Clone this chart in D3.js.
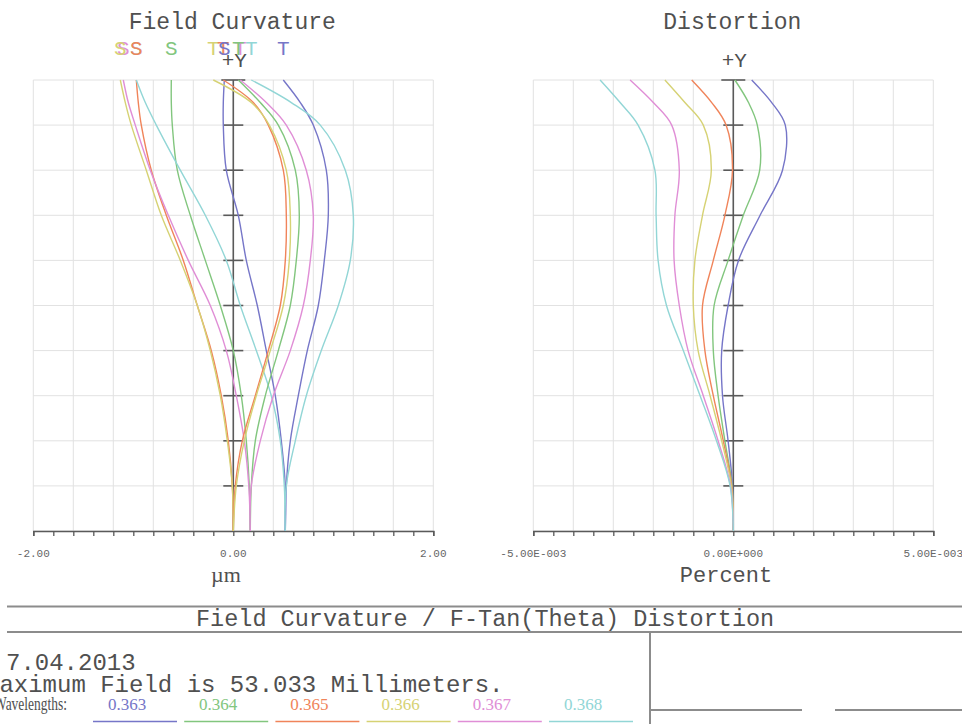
<!DOCTYPE html>
<html>
<head>
<meta charset="utf-8">
<script src="https://cdn.jsdelivr.net/npm/d3@7"></script>
<style>
  html, body { margin: 0; padding: 0; background: #fff; }
  svg { display: block; }
</style>
</head>
<body>
<svg id="chart" width="962" height="724"></svg>
<script>
// Relative field heights (0 = axis, 1 = full field)
const fields = [0, 0.1, 0.2, 0.3, 0.4, 0.5, 0.6, 0.7, 0.8, 0.9, 0.95, 1];
const gridFields = [0, 0.1, 0.2, 0.3, 0.4, 0.5, 0.6, 0.7, 0.8, 0.9, 1];

const wavelengths = ["0.363", "0.364", "0.365", "0.366", "0.367", "0.368"];

// Field curvature, sagittal focus shift (µm)
const sag363 = [0.52, 0.52, 0.48, 0.42, 0.33, 0.24, 0.13, 0.05, -0.07, -0.10, -0.10, -0.09];
const sag364 = [0.17, 0.16, 0.13, 0.08, 0.00, -0.13, -0.28, -0.43, -0.56, -0.61, -0.62, -0.62];
const sag365 = [0.00, -0.01, -0.05, -0.12, -0.22, -0.36, -0.50, -0.67, -0.82, -0.92, -0.95, -0.97];
const sag366 = [0.00, -0.01, -0.06, -0.13, -0.23, -0.36, -0.53, -0.72, -0.87, -1.02, -1.08, -1.13];
const sag367 = [0.17, 0.155, 0.11, 0.03, -0.07, -0.23, -0.45, -0.65, -0.83, -0.98, -1.05, -1.10];
const sag368 = [0.52, 0.51, 0.47, 0.38, 0.23, 0.07, -0.07, -0.28, -0.53, -0.77, -0.88, -0.97];

// Field curvature, tangential focus shift (µm)
const tan363 = [0.52, 0.53, 0.57, 0.65, 0.74, 0.85, 0.91, 0.95, 0.93, 0.80, 0.67, 0.50];
const tan364 = [0.17, 0.18, 0.22, 0.32, 0.45, 0.57, 0.63, 0.66, 0.62, 0.45, 0.27, 0.05];
const tan365 = [0.00, 0.02, 0.09, 0.22, 0.35, 0.47, 0.52, 0.53, 0.50, 0.35, 0.20, -0.10];
const tan366 = [0.00, 0.03, 0.11, 0.23, 0.37, 0.50, 0.56, 0.57, 0.53, 0.36, 0.18, -0.20];
const tan367 = [0.17, 0.18, 0.27, 0.40, 0.57, 0.70, 0.77, 0.80, 0.73, 0.53, 0.33, 0.07];
const tan368 = [0.52, 0.53, 0.62, 0.73, 0.88, 1.05, 1.17, 1.20, 1.12, 0.87, 0.58, 0.18];

// F-Tan(Theta) distortion (percent)
const dist363 = [0, -0.00002, -0.00013, -0.00027, -0.00029, -0.00013, 0.00013, 0.00067, 0.00123, 0.00130, 0.00096, 0.00046];
const dist364 = [0, -0.00003, -0.00021, -0.00038, -0.00050, -0.00048, -0.00013, 0.00025, 0.00066, 0.00060, 0.00038, 0.00004];
const dist365 = [0, -0.00004, -0.00025, -0.00050, -0.00071, -0.00077, -0.00050, -0.00021, -0.00002, -0.00018, -0.00054, -0.00104];
const dist366 = [0, -0.00005, -0.00029, -0.00058, -0.00088, -0.00100, -0.00096, -0.00077, -0.00055, -0.00075, -0.00121, -0.00171];
const dist367 = [0, -0.00007, -0.00038, -0.00075, -0.00113, -0.00135, -0.00148, -0.00146, -0.00135, -0.00154, -0.00200, -0.00258];
const dist368 = [0, -0.00008, -0.00042, -0.00083, -0.00125, -0.00167, -0.00188, -0.00193, -0.00196, -0.00238, -0.00283, -0.00333];

const fcTickValues = [-2, 0, 2];
const fcTickLabels = ["-2.00", "0.00", "2.00"];
const distTickValues = [-0.005, 0, 0.005];
const distTickLabels = ["-5.00E-003", "0.00E+000", "5.00E-003"];

const dateText = "7.04.2013";
const fieldText = "Maximum Field is 53.033 Millimeters.";

// ---- styling ----
const colors = ["#7676c8", "#82c67e", "#f0845a", "#d6d274", "#e08ed6", "#92d6d6"];
const mono = "'Liberation Mono', 'DejaVu Sans Mono', monospace";
const serif = "'Liberation Serif', 'DejaVu Serif', serif";
const ink = "#505050";
const gridColor = "#e2e2e2";
const axisColor = "#5a5a5a";

const svg = d3.select("#chart");

const plotTop = 80, plotBottom = 531;
const fy = d3.scaleLinear().domain([0, 1]).range([plotBottom, plotTop]);
const fcX = d3.scaleLinear().domain([-2, 2]).range([33.3, 433.3]);
const dX = d3.scaleLinear().domain([-0.005, 0.005]).range([533.3, 933.3]);

function panel(xScale, gridStep, tickStep, tickValues, tickLabels, title, unit, unitX, unitFont) {
  const [x0, x1] = xScale.domain();
  const g = svg.append("g");
  const vGrid = d3.range(x0, x1 + gridStep / 2, gridStep);
  g.selectAll(".vg").data(vGrid).join("line")
    .attr("x1", d => xScale(d)).attr("x2", d => xScale(d))
    .attr("y1", plotTop).attr("y2", plotBottom)
    .attr("stroke", gridColor).attr("stroke-width", 1);
  g.selectAll(".hg").data(gridFields).join("line")
    .attr("x1", xScale(x0)).attr("x2", xScale(x1))
    .attr("y1", d => fy(d)).attr("y2", d => fy(d))
    .attr("stroke", gridColor).attr("stroke-width", 1);

  // bottom axis with minor ticks
  const ax = g.append("g").attr("transform", `translate(0,${plotBottom})`)
    .call(d3.axisBottom(xScale)
      .tickValues(d3.range(x0, x1 + tickStep / 2, tickStep))
      .tickSize(5).tickSizeOuter(5).tickFormat(""));
  ax.select(".domain").attr("stroke", axisColor).attr("stroke-width", 1.5);
  ax.selectAll(".tick line").attr("stroke", axisColor).attr("stroke-width", 1.3);

  g.selectAll(".tl").data(tickValues).join("text")
    .attr("x", d => xScale(d)).attr("y", 557)
    .attr("text-anchor", "middle")
    .attr("font-family", mono).attr("font-size", 11)
    .attr("fill", "#666")
    .text((d, i) => tickLabels[i]);

  // centre (zero) axis with field ticks
  const cx = xScale(0);
  g.append("line").attr("x1", cx).attr("x2", cx).attr("y1", plotTop).attr("y2", plotBottom)
    .attr("stroke", axisColor).attr("stroke-width", 1.6);
  g.selectAll(".ct").data(gridFields.filter(d => d > 0)).join("line")
    .attr("x1", d => cx - (d === 1 ? 12 : 10)).attr("x2", d => cx + (d === 1 ? 12 : 10))
    .attr("y1", d => fy(d)).attr("y2", d => fy(d))
    .attr("stroke", axisColor).attr("stroke-width", 1.6);

  g.append("text").attr("x", cx - 1).attr("y", 29).attr("text-anchor", "middle")
    .attr("font-family", mono).attr("font-size", 23).attr("fill", ink).text(title);
  g.append("text").attr("x", cx + 1).attr("y", 67).attr("text-anchor", "middle")
    .attr("font-family", mono).attr("font-size", 21).attr("fill", ink).text("+Y");
  g.append("text").attr("x", unitX).attr("y", 582).attr("text-anchor", "middle")
    .attr("font-family", unitFont).attr("font-size", 22).attr("fill", ink).text(unit);
  return g;
}

panel(fcX, 0.4, 0.2, fcTickValues, fcTickLabels, "Field Curvature", "µm", 226, serif);
panel(dX, 0.001, 0.0005, distTickValues, distTickLabels, "Distortion", "Percent", 726, mono);

function drawCurve(xScale, values, color) {
  const pts = fields.map((f, i) => ({ f, v: values[i] }));
  const line = d3.line()
    .x(d => xScale(d.v)).y(d => fy(d.f))
    .curve(d3.curveCatmullRom.alpha(0.5));
  svg.append("path").datum(pts).attr("d", line)
    .attr("fill", "none").attr("stroke", color).attr("stroke-width", 1.4);
}

const sagSeries = [sag363, sag364, sag365, sag366, sag367, sag368];
const tanSeries = [tan363, tan364, tan365, tan366, tan367, tan368];
const distSeries = [dist363, dist364, dist365, dist366, dist367, dist368];

sagSeries.forEach((s, i) => drawCurve(fcX, s, colors[i]));
tanSeries.forEach((s, i) => drawCurve(fcX, s, colors[i]));
distSeries.forEach((s, i) => drawCurve(dX, s, colors[i]));

// S / T labels placed above the full-field end of each curve
const labelGroup = svg.append("g");
for (let i = wavelengths.length - 1; i >= 0; i--) {
  [["S", sagSeries[i]], ["T", tanSeries[i]]].forEach(([lab, s]) => {
    labelGroup.append("text")
      .attr("x", fcX(s[s.length - 1])).attr("y", 55)
      .attr("text-anchor", "middle")
      .attr("font-family", mono).attr("font-size", 21)
      .attr("fill", colors[i]).text(lab);
  });
}

// ---- information block ----
const info = svg.append("g");
const frame = "#8c8c8c";
info.append("line").attr("x1", 7).attr("x2", 962).attr("y1", 606.5).attr("y2", 606.5)
  .attr("stroke", frame).attr("stroke-width", 2);
info.append("line").attr("x1", 7).attr("x2", 962).attr("y1", 632).attr("y2", 632)
  .attr("stroke", frame).attr("stroke-width", 2);
info.append("line").attr("x1", 650).attr("x2", 650).attr("y1", 632).attr("y2", 724)
  .attr("stroke", frame).attr("stroke-width", 2);
info.append("line").attr("x1", 650).attr("x2", 802).attr("y1", 710).attr("y2", 710)
  .attr("stroke", frame).attr("stroke-width", 2);
info.append("line").attr("x1", 835).attr("x2", 962).attr("y1", 710).attr("y2", 710)
  .attr("stroke", frame).attr("stroke-width", 2);

info.append("text").attr("x", 196).attr("y", 626)
  .attr("font-family", mono).attr("font-size", 23.5).attr("fill", ink)
  .text("Field Curvature / F-Tan(Theta) Distortion");
info.append("text").attr("x", 6).attr("y", 670)
  .attr("font-family", mono).attr("font-size", 24).attr("fill", ink).text(dateText);
info.append("text").attr("x", -15).attr("y", 692)
  .attr("font-family", mono).attr("font-size", 24).attr("fill", ink).text(fieldText);
info.append("text").attr("x", -6).attr("y", 710)
  .attr("font-family", serif).attr("font-size", 18)
  .attr("textLength", 73).attr("lengthAdjust", "spacingAndGlyphs")
  .attr("fill", ink).text("Wavelengths:");

const wlScale = d3.scalePoint().domain(wavelengths).range([135, 591]);
info.selectAll(".wl").data(wavelengths).join("text")
  .attr("x", d => wlScale(d) - 8).attr("y", 710)
  .attr("text-anchor", "middle")
  .attr("font-family", serif).attr("font-size", 17)
  .attr("fill", (d, i) => colors[i]).text(d => d);
info.selectAll(".wu").data(wavelengths).join("line")
  .attr("x1", d => wlScale(d) - 42).attr("x2", d => wlScale(d) + 42)
  .attr("y1", 721.5).attr("y2", 721.5)
  .attr("stroke", (d, i) => colors[i]).attr("stroke-width", 1.6);
</script>
</body>
</html>
